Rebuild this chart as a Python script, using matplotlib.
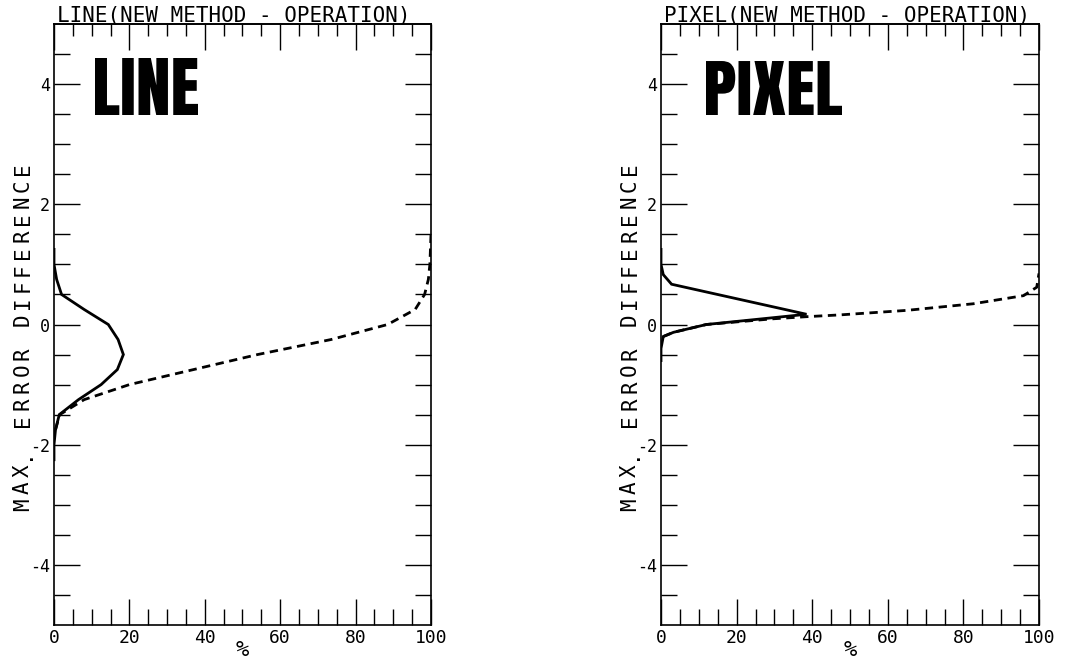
import numpy as np
import matplotlib
matplotlib.use('Agg')
import matplotlib.pyplot as plt
from matplotlib.textpath import TextPath
from matplotlib.patches import PathPatch
from matplotlib.font_manager import FontProperties
from matplotlib.transforms import Affine2D

plt.rcParams['axes.unicode_minus'] = False
plt.rcParams['font.family'] = ['DejaVu Sans Mono', 'DejaVu Sans']

# LINE panel: distribution (solid) and cumulative (dashed), % vs max. error difference
line_err = [1.25, 1.0, 0.75, 0.5, 0.25, 0.0, -0.25, -0.5, -0.75, -1.0, -1.25, -1.5, -1.75, -2.0, -2.25]
line_pct = [0, 0, 0.7, 2, 8, 14.4, 17, 18.4, 16.8, 12.5, 6.5, 1.4, 0.4, 0, 0]
line_cum_err = [-1.75, -1.5, -1.25, -1.0, -0.75, -0.5, -0.25, 0.0, 0.25, 0.5, 0.75, 1.0, 1.5]
line_cum_pct = [0.4, 1.5, 8, 20, 37, 54, 73.5, 88.5, 95.8, 98.3, 99.3, 99.7, 100]

# PIXEL panel
pixel_err = [1.25, 1.0, 0.83, 0.67, 0.17, 0.0, -0.13, -0.2, -0.4, -0.6]
pixel_pct = [0, 0, 0.6, 2.8, 38.5, 12, 3.3, 0.6, 0, 0]
pixel_cum_err = [-0.2, -0.13, 0.0, 0.095, 0.13, 0.16, 0.235, 0.345, 0.48, 0.62, 0.85]
pixel_cum_pct = [0.6, 3.3, 12, 29.7, 38.5, 47.4, 65, 82.6, 95.9, 99.4, 100]

x_major = [0, 20, 40, 60, 80, 100]
x_minor = list(range(5, 100, 5))
y_major = [-4, -2, 0, 2, 4]
y_minor = list(np.arange(-4.5, 4.6, 0.5))

W, H = 1066, 661
PX = 100 / 72.0  # pixels per point

fig = plt.figure(figsize=(W / 100, H / 100), dpi=100)


def make_panel(left_px, right_px, title, word, word_box, dist, cum):
    ax = fig.add_axes([left_px / W, 1 - 625 / H, (right_px - left_px) / W, 601 / H])
    ax.plot(dist[0], dist[1], color='black', lw=2.0, solid_joinstyle='miter')
    ax.plot(cum[0], cum[1], color='black', lw=2.0, dashes=(3, 2))
    ax.set_xlim(0, 100)
    ax.set_ylim(-5, 5)
    ax.set_xticks(x_major)
    ax.set_xticks(x_minor, minor=True)
    ax.set_yticks(y_major)
    ax.set_yticks(y_minor, minor=True)
    ax.tick_params(which='both', direction='in', right=True, width=1.0)
    ax.tick_params(axis='x', pad=3, labelsize=13)
    ax.tick_params(axis='y', pad=3, labelsize=12)
    ax.tick_params(which='major', length=26 / PX)
    ax.tick_params(which='minor', length=16 / PX)
    for s in ax.spines.values():
        s.set_linewidth(1.2)

    top = ax.secondary_xaxis('top')
    top.set_xticks(x_major)
    top.set_xticks(x_minor, minor=True)
    top.tick_params(which='both', direction='in', labeltop=False, width=1.0)
    top.tick_params(which='major', length=26 / PX)
    top.tick_params(which='minor', length=12 / PX)
    top.spines['top'].set_linewidth(1.2)

    fig.text((left_px + right_px) / 2 / W, 1 - 650 / H, '%', fontsize=16,
             ha='center', va='center')

    fig.text((left_px + 3) / W, 1 - 22 / H, title, fontsize=15, va='baseline', ha='left')

    # y label, letters spaced like the plotter lettering
    label = 'MAX. ERROR DIFFERENCE'
    step = (513 - 160) / len(label)
    base_x = left_px - 25
    for i, ch in enumerate(label):
        yc = 513 - step * (i + 0.5)
        fig.text(base_x / W, 1 - yc / H, ch, fontsize=15, rotation=90,
                 rotation_mode='anchor', ha='center', va='baseline')

    # big condensed word
    x0, x1, y0, y1 = word_box
    tp = TextPath((0, 0), word, size=10, prop=FontProperties(family='Anton'))
    ext = tp.get_extents()
    tr = (Affine2D().translate(-ext.x0, -ext.y0)
          .scale((x1 - x0) / ext.width / W, (y1 - y0) / ext.height / H)
          .translate(x0 / W, 1 - y1 / H) + fig.transFigure)
    fig.add_artist(PathPatch(tp, transform=tr, facecolor='black', edgecolor='none'))
    return ax


make_panel(54, 431, 'LINE(NEW METHOD - OPERATION)', 'LINE', (95, 198, 58, 115),
           (line_pct, line_err), (line_cum_pct, line_cum_err))
make_panel(661, 1039, 'PIXEL(NEW METHOD - OPERATION)', 'PIXEL', (706, 842, 61, 115),
           (pixel_pct, pixel_err), (pixel_cum_pct, pixel_cum_err))

fig.savefig('out.png', dpi=100, facecolor='white')
